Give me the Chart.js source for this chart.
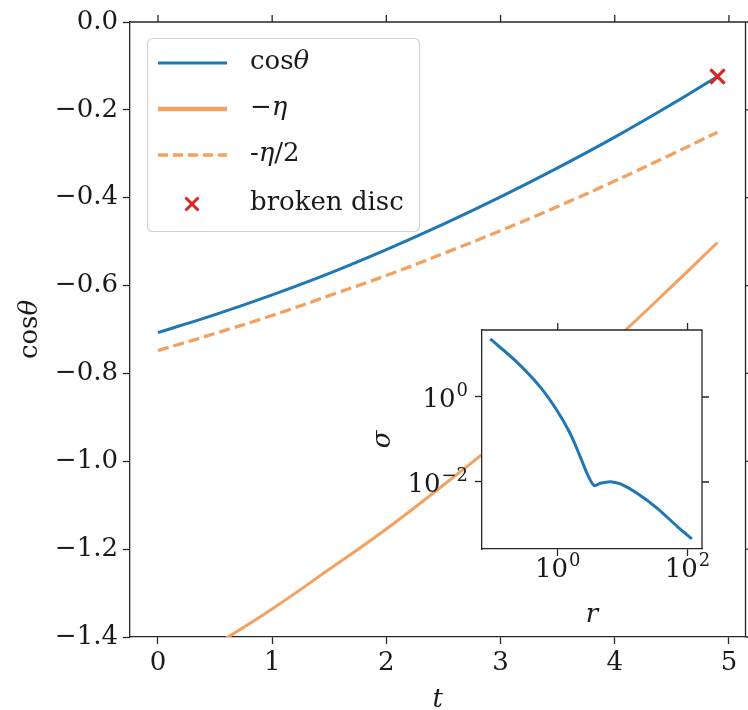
<!DOCTYPE html>
<html>
<head>
<meta charset="utf-8">
<title>cos theta and eta against t</title>
<script src="https://cdn.jsdelivr.net/npm/chart.js@4.4.1/dist/chart.umd.min.js"></script>
<style>
  html, body { margin: 0; padding: 0; background: #fff; }
  #wrap { position: relative; width: 748px; height: 710px; }
  #main { position: absolute; left: 0; top: 0; }
  #inset { position: absolute; left: 370px; top: 315px; }
</style>
</head>
<body>
<div id="wrap">
  <canvas id="main" width="748" height="710"></canvas>
  <canvas id="inset" width="345" height="315"></canvas>
</div>
<script>
// ---- main panel: time evolution ----
const tValues      = [0, 0.5, 1, 1.5, 2, 2.5, 3, 3.5, 4, 4.5, 4.9];
const cosTheta     = [-0.707, -0.666, -0.621, -0.572, -0.518, -0.460, -0.398, -0.332, -0.262, -0.187, -0.124];
const minusEta     = [-1.496, -1.418, -1.336, -1.246, -1.154, -1.054, -0.950, -0.840, -0.724, -0.602, -0.502];
const minusHalfEta = [-0.748, -0.709, -0.668, -0.623, -0.577, -0.527, -0.475, -0.420, -0.362, -0.301, -0.251];
const brokenDiscT  = [4.9];
const brokenDiscCos = [-0.124];
const tTicks   = [0, 1, 2, 3, 4, 5];
const cosTicks = [0, -0.2, -0.4, -0.6, -0.8, -1.0, -1.2, -1.4];

// ---- inset: surface density profile ----
const radius = [0.0914, 0.231, 0.532, 0.964, 1.55, 2.22, 2.98, 3.66, 4.53, 6.47, 9.25, 16.7, 34.2, 69.8, 116.7];
const sigma  = [23.2, 6.78, 1.75, 0.494, 0.140, 0.0394, 0.01334, 0.00820, 0.00931, 0.01018, 0.00897, 0.00542, 0.00240, 0.000889, 0.000456];
const rTicks = [1, 100];
const rTickExp = ['0', '2'];
const sigmaTicks = [0.01, 1];
const sigmaTickExp = ['−2', '0'];

const FONT = 'DejaVu Serif';
const FS = 26;
const SUP = 18;
const AX = '#262626';
const TXT = '#1a1a1a';
const BLUE = '#1f77b4';
const ORANGE = '#f3a160';
const RED = '#d62728';
const TICK_LEN = 7;

// draws a run of text pieces, some in italic
function drawRuns(ctx, runs, x, y, align) {
  const fontOf = r => (r.italic ? 'italic ' : '') + FS + 'px "' + FONT + '"';
  let total = 0;
  runs.forEach(r => { ctx.font = fontOf(r); total += ctx.measureText(r.text).width; });
  let cx = align === 'center' ? x - total / 2 : x;
  ctx.textAlign = 'left';
  ctx.textBaseline = 'middle';
  runs.forEach(r => {
    ctx.font = fontOf(r);
    ctx.fillText(r.text, cx, y);
    cx += ctx.measureText(r.text).width;
  });
}

// "10" with a raised exponent; y is the baseline of the base
function drawPow(ctx, exp, x, y, align) {
  const bf = FS + 'px "' + FONT + '"';
  const ef = SUP + 'px "' + FONT + '"';
  ctx.font = bf; const bw = ctx.measureText('10').width;
  ctx.font = ef; const ew = ctx.measureText(exp).width;
  const total = bw + 1 + ew;
  const x0 = align === 'center' ? x - total / 2 : x - total;
  ctx.textAlign = 'left';
  ctx.textBaseline = 'alphabetic';
  ctx.font = bf; ctx.fillText('10', x0, y);
  ctx.font = ef; ctx.fillText(exp, x0 + bw + 1, y - 11);
}

// frame on top/right and mirrored tick marks
const frameTicks = {
  id: 'frameTicks',
  afterDraw(chart) {
    const { ctx, chartArea: a, scales } = chart;
    ctx.save();
    ctx.strokeStyle = AX;
    ctx.lineWidth = 1.3;
    ctx.beginPath();
    ctx.moveTo(a.left, a.top); ctx.lineTo(a.right, a.top); ctx.lineTo(a.right, a.bottom);
    scales.x.ticks.forEach(tk => {
      const px = scales.x.getPixelForValue(tk.value);
      ctx.moveTo(px, a.top); ctx.lineTo(px, a.top - TICK_LEN);
    });
    scales.y.ticks.forEach(tk => {
      const py = scales.y.getPixelForValue(tk.value);
      ctx.moveTo(a.right, py); ctx.lineTo(a.right + TICK_LEN, py);
    });
    ctx.stroke();
    ctx.restore();
  }
};

const legendItems = [
  { runs: [{ text: 'cos' }, { text: 'θ', italic: true }], kind: 'line', color: BLUE, width: 3, dash: [] },
  { runs: [{ text: '−' }, { text: 'η', italic: true }], kind: 'line', color: ORANGE, width: 4.5, dash: [] },
  { runs: [{ text: '-' }, { text: 'η', italic: true }, { text: '/2' }], kind: 'line', color: ORANGE, width: 3.5, dash: [10, 5] },
  { runs: [{ text: 'broken disc' }], kind: 'cross', color: RED }
];

// legend box inside the axes plus the y-axis label
const mainDecor = {
  id: 'mainDecor',
  afterDraw(chart) {
    const { ctx, chartArea: a } = chart;
    ctx.save();
    ctx.fillStyle = TXT;
    ctx.translate(30, (a.top + a.bottom) / 2);
    ctx.rotate(-Math.PI / 2);
    drawRuns(ctx, [{ text: 'cos' }, { text: 'θ', italic: true }], 0, 0, 'center');
    ctx.restore();

    ctx.save();
    const bx = 147.5, by = 38.5, bw = 272, bh = 193, rad = 5;
    ctx.beginPath();
    ctx.roundRect(bx, by, bw, bh, rad);
    ctx.fillStyle = 'rgba(255,255,255,0.8)';
    ctx.fill();
    ctx.strokeStyle = '#d4d4d4';
    ctx.lineWidth = 1.2;
    ctx.stroke();
    const rows = [63, 109, 155, 204];
    legendItems.forEach((it, i) => {
      const y = rows[i];
      if (it.kind === 'line') {
        ctx.beginPath();
        ctx.setLineDash(it.dash);
        ctx.strokeStyle = it.color;
        ctx.lineWidth = it.width;
        ctx.moveTo(158, y); ctx.lineTo(227, y);
        ctx.stroke();
        ctx.setLineDash([]);
      } else {
        const s = 6.5;
        ctx.beginPath();
        ctx.strokeStyle = it.color;
        ctx.lineWidth = 3;
        ctx.moveTo(192 - s, y - s); ctx.lineTo(192 + s, y + s);
        ctx.moveTo(192 - s, y + s); ctx.lineTo(192 + s, y - s);
        ctx.stroke();
      }
      ctx.fillStyle = TXT;
      drawRuns(ctx, it.runs, 250, y - 1, 'left');
    });
    ctx.restore();
  }
};

const tickFont = { family: FONT, size: FS };
const fmtCos = v => (v < -1e-9 ? '−' : '') + Math.abs(v).toFixed(1);
const gridOpts = { display: true, drawOnChartArea: false, drawTicks: true, tickLength: TICK_LEN, tickColor: AX, tickWidth: 1.3 };
const borderOpts = { display: true, color: AX, width: 1.3 };
const noPad = s => { s.paddingLeft = 0; s.paddingRight = 0; s.paddingTop = 0; s.paddingBottom = 0; };

new Chart(document.getElementById('main'), {
  type: 'scatter',
  data: {
    datasets: [
      {
        label: 'broken disc',
        data: brokenDiscT.map((t, i) => ({ x: t, y: brokenDiscCos[i] })),
        pointStyle: 'crossRot', pointRadius: 10, pointBorderWidth: 3.2,
        borderColor: RED, backgroundColor: RED, showLine: false, order: 0, clip: false
      },
      {
        label: 'cosθ',
        data: tValues.map((t, i) => ({ x: t, y: cosTheta[i] })),
        showLine: true, borderColor: BLUE, borderWidth: 3, pointRadius: 0, tension: 0.4, order: 1
      },
      {
        label: '−η',
        data: tValues.map((t, i) => ({ x: t, y: minusEta[i] })),
        showLine: true, borderColor: ORANGE, borderWidth: 3, pointRadius: 0, tension: 0.4, order: 2
      },
      {
        label: '-η/2',
        data: tValues.map((t, i) => ({ x: t, y: minusHalfEta[i] })),
        showLine: true, borderColor: ORANGE, borderWidth: 3.3, borderDash: [11, 5], pointRadius: 0, tension: 0.4, order: 3
      }
    ]
  },
  options: {
    responsive: false,
    animation: false,
    events: [],
    layout: { autoPadding: false, padding: { top: 22, right: 2.5, left: 0, bottom: 0 } },
    plugins: { legend: { display: false }, tooltip: { enabled: false } },
    scales: {
      x: {
        type: 'linear', min: -0.245, max: 5.145,
        afterBuildTicks: s => { s.ticks = tTicks.map(v => ({ value: v })); },
        afterFit: s => { s.height = 73; noPad(s); },
        ticks: { font: tickFont, color: TXT, padding: 4, maxRotation: 0, autoSkip: false, callback: v => String(v) },
        grid: gridOpts,
        border: borderOpts,
        title: { display: true, text: 't', color: TXT, font: { family: FONT, size: FS, style: 'italic', lineHeight: 0.75 }, padding: { top: 0, bottom: 0 } }
      },
      y: {
        type: 'linear', min: -1.4, max: 0,
        afterBuildTicks: s => { s.ticks = cosTicks.map(v => ({ value: v })); },
        afterFit: s => { s.width = 130; noPad(s); },
        ticks: { font: tickFont, color: TXT, padding: 5, autoSkip: false, callback: v => fmtCos(v) },
        grid: gridOpts,
        border: borderOpts
      }
    }
  },
  plugins: [frameTicks, mainDecor]
});

// opaque background for the inset axes
const insetBg = {
  id: 'insetBg',
  beforeDraw(chart) {
    const { ctx, chartArea: a } = chart;
    ctx.save();
    ctx.fillStyle = '#fff';
    ctx.fillRect(a.left, a.top, a.right - a.left, a.bottom - a.top);
    ctx.restore();
  }
};

// power-of-ten tick labels for the inset log axes
const insetLabels = {
  id: 'insetLabels',
  afterDraw(chart) {
    const { ctx, chartArea: a, scales } = chart;
    ctx.save();
    ctx.fillStyle = TXT;
    rTicks.forEach((v, i) => {
      drawPow(ctx, rTickExp[i], scales.x.getPixelForValue(v), a.bottom + 28, 'center');
    });
    sigmaTicks.forEach((v, i) => {
      drawPow(ctx, sigmaTickExp[i], a.left - 14, scales.y.getPixelForValue(v) + 10, 'right');
    });
    ctx.restore();
  }
};

new Chart(document.getElementById('inset'), {
  type: 'scatter',
  data: {
    datasets: [{
      label: 'σ',
      data: radius.map((r, i) => ({ x: r, y: sigma[i] })),
      showLine: true, borderColor: BLUE, borderWidth: 3, pointRadius: 0, tension: 0.3
    }]
  },
  options: {
    responsive: false,
    animation: false,
    events: [],
    layout: { autoPadding: false, padding: { top: 15, right: 13, left: 0, bottom: 0 } },
    plugins: { legend: { display: false }, tooltip: { enabled: false } },
    scales: {
      x: {
        type: 'logarithmic', min: 0.0682, max: 167,
        afterBuildTicks: s => { s.ticks = rTicks.map(v => ({ value: v })); },
        afterFit: s => { s.height = 81; noPad(s); },
        ticks: { display: false },
        grid: gridOpts,
        border: borderOpts,
        title: { display: true, text: 'r', color: TXT, font: { family: FONT, size: FS, style: 'italic', lineHeight: 1.1 }, padding: { top: 0, bottom: 0 } }
      },
      y: {
        type: 'logarithmic', min: 2.65e-4, max: 37.7,
        afterBuildTicks: s => { s.ticks = sigmaTicks.map(v => ({ value: v })); },
        afterFit: s => { s.width = 112; noPad(s); },
        ticks: { display: false },
        grid: gridOpts,
        border: borderOpts,
        title: { display: true, text: 'σ', color: TXT, font: { family: FONT, size: FS, style: 'italic', lineHeight: 1 }, padding: { top: 0, bottom: 0 } }
      }
    }
  },
  plugins: [insetBg, frameTicks, insetLabels]
});
</script>
</body>
</html>
